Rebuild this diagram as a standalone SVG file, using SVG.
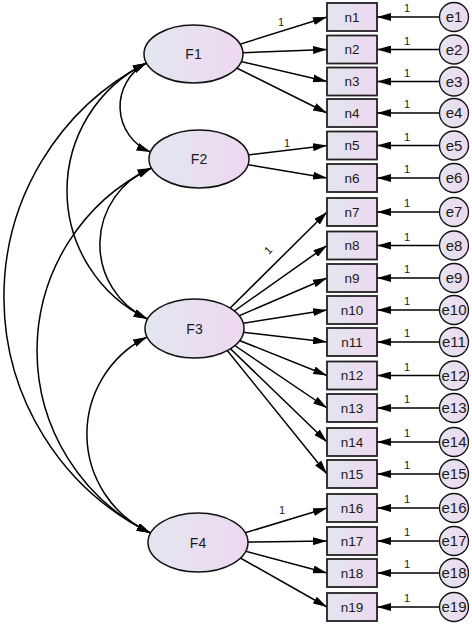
<svg xmlns="http://www.w3.org/2000/svg" width="472" height="625" viewBox="0 0 472 625">
<defs>
<linearGradient id="g" x1="0" y1="0" x2="1" y2="0">
<stop offset="0" stop-color="#e2e6ef"/>
<stop offset="1" stop-color="#eed8f0"/>
</linearGradient>
<marker id="ah" markerUnits="userSpaceOnUse" markerWidth="14" markerHeight="8" refX="14" refY="4" orient="auto-start-reverse" viewBox="0 0 14 8">
<path d="M0,0 L14,4 L0,8 z" fill="#000"/>
</marker>
</defs>
<style>
.lat{fill:url(#g);stroke:#111;stroke-width:1.5}
.obs{fill:url(#g);stroke:#222;stroke-width:1.8}
.err{fill:url(#g);stroke:#111;stroke-width:1.3}
.ln{fill:none;stroke:#000;stroke-width:1.5;marker-end:url(#ah)}
.cov{fill:none;stroke:#000;stroke-width:1.5;marker-start:url(#ah);marker-end:url(#ah)}
.tf{font-family:"Liberation Sans",Arial,sans-serif;font-size:14px;fill:#1a1a1a;text-anchor:middle}
.tn{font-family:"Liberation Sans",Arial,sans-serif;font-size:13.5px;fill:#1a1a1a;text-anchor:middle}
.te{font-family:"Liberation Sans",Arial,sans-serif;font-size:15px;fill:#1a1a1a;text-anchor:middle}
.tl{font-family:"Liberation Sans",Arial,sans-serif;font-size:11px;fill:#1a1a1a;text-anchor:middle}
</style>
<rect width="472" height="625" fill="#fff"/>
<g id="connectors">
<path class="cov" d="M146.5,63 A49.1,49.1 0 0 0 150.5,152"/>
<path class="cov" d="M146.5,63 A142.4,142.4 0 0 0 147.5,319"/>
<path class="cov" d="M146.5,63 A263.3,263.3 0 0 0 150.5,533"/>
<path class="cov" d="M151.5,168 A82.3,82.3 0 0 0 147.5,319"/>
<path class="cov" d="M151.5,168 A203.1,203.1 0 0 0 150.5,533"/>
<path class="cov" d="M147,337 A108.6,108.6 0 0 0 150.5,533"/>
<path class="ln" d="M208.5,54 L327,17"/>
<path class="ln" d="M208.5,54 L327,49.5"/>
<path class="ln" d="M208.5,54 L327,81.5"/>
<path class="ln" d="M208.5,54 L327,113"/>
<path class="ln" d="M214,159 L327,145.5"/>
<path class="ln" d="M214,159 L327,178"/>
<path class="ln" d="M209.5,328.5 L327,212"/>
<path class="ln" d="M209.5,328.5 L327,245.5"/>
<path class="ln" d="M209.5,328.5 L327,278"/>
<path class="ln" d="M209.5,328.5 L327,310"/>
<path class="ln" d="M209.5,328.5 L327,342"/>
<path class="ln" d="M209.5,328.5 L327,375.5"/>
<path class="ln" d="M209.5,328.5 L327,408"/>
<path class="ln" d="M209.5,328.5 L327,442"/>
<path class="ln" d="M209.5,328.5 L327,474"/>
<path class="ln" d="M213,542.5 L327,508"/>
<path class="ln" d="M213,542.5 L327,541"/>
<path class="ln" d="M213,542.5 L327,573"/>
<path class="ln" d="M213,542.5 L327,607"/>
<path class="ln" d="M454,17 L377,17"/>
<path class="ln" d="M454,49.5 L377,49.5"/>
<path class="ln" d="M454,81.5 L377,81.5"/>
<path class="ln" d="M454,113 L377,113"/>
<path class="ln" d="M454,145.5 L377,145.5"/>
<path class="ln" d="M454,178 L377,178"/>
<path class="ln" d="M454,212 L377,212"/>
<path class="ln" d="M454,245.5 L377,245.5"/>
<path class="ln" d="M454,278 L377,278"/>
<path class="ln" d="M454,310 L377,310"/>
<path class="ln" d="M454,342 L377,342"/>
<path class="ln" d="M454,375.5 L377,375.5"/>
<path class="ln" d="M454,408 L377,408"/>
<path class="ln" d="M454,442 L377,442"/>
<path class="ln" d="M454,474 L377,474"/>
<path class="ln" d="M454,508 L377,508"/>
<path class="ln" d="M454,541 L377,541"/>
<path class="ln" d="M454,573 L377,573"/>
<path class="ln" d="M454,607 L377,607"/>
<text class="tl" x="281" y="25.5">1</text>
<text class="tl" x="287" y="146.5">1</text>
<text class="tl" transform="translate(268,250) rotate(-46)" x="0" y="4">1</text>
<text class="tl" x="282" y="513.5">1</text>
<text class="tl" x="407" y="12">1</text>
<text class="tl" x="407" y="44.5">1</text>
<text class="tl" x="407" y="76.5">1</text>
<text class="tl" x="407" y="108">1</text>
<text class="tl" x="407" y="140.5">1</text>
<text class="tl" x="407" y="173">1</text>
<text class="tl" x="407" y="207">1</text>
<text class="tl" x="407" y="240.5">1</text>
<text class="tl" x="407" y="273">1</text>
<text class="tl" x="407" y="305">1</text>
<text class="tl" x="407" y="337">1</text>
<text class="tl" x="407" y="370.5">1</text>
<text class="tl" x="407" y="403">1</text>
<text class="tl" x="407" y="437">1</text>
<text class="tl" x="407" y="469">1</text>
<text class="tl" x="407" y="503">1</text>
<text class="tl" x="407" y="536">1</text>
<text class="tl" x="407" y="568">1</text>
<text class="tl" x="407" y="602">1</text>
</g>
<g id="F1"><ellipse class="lat" cx="193.5" cy="54" rx="49.5" ry="29"/><text class="tf" x="193.5" y="59">F1</text></g>
<g id="F2"><ellipse class="lat" cx="199" cy="159" rx="50" ry="29"/><text class="tf" x="199" y="164">F2</text></g>
<g id="F3"><ellipse class="lat" cx="194.5" cy="328.5" rx="49.5" ry="29.5"/><text class="tf" x="194.5" y="333.5">F3</text></g>
<g id="F4"><ellipse class="lat" cx="198" cy="542.5" rx="50" ry="29.5"/><text class="tf" x="198" y="547.5">F4</text></g>
<g id="n1"><rect class="obs" x="327" y="3" width="50" height="28"/><text class="tn" x="352" y="21.7">n1</text></g>
<g id="n2"><rect class="obs" x="327" y="35.5" width="50" height="28"/><text class="tn" x="352" y="54.2">n2</text></g>
<g id="n3"><rect class="obs" x="327" y="67.5" width="50" height="28"/><text class="tn" x="352" y="86.2">n3</text></g>
<g id="n4"><rect class="obs" x="327" y="99" width="50" height="28"/><text class="tn" x="352" y="117.7">n4</text></g>
<g id="n5"><rect class="obs" x="327" y="131.5" width="50" height="28"/><text class="tn" x="352" y="150.2">n5</text></g>
<g id="n6"><rect class="obs" x="327" y="164" width="50" height="28"/><text class="tn" x="352" y="182.7">n6</text></g>
<g id="n7"><rect class="obs" x="327" y="198" width="50" height="28"/><text class="tn" x="352" y="216.7">n7</text></g>
<g id="n8"><rect class="obs" x="327" y="231.5" width="50" height="28"/><text class="tn" x="352" y="250.2">n8</text></g>
<g id="n9"><rect class="obs" x="327" y="264" width="50" height="28"/><text class="tn" x="352" y="282.7">n9</text></g>
<g id="n10"><rect class="obs" x="327" y="296" width="50" height="28"/><text class="tn" x="352" y="314.7">n10</text></g>
<g id="n11"><rect class="obs" x="327" y="328" width="50" height="28"/><text class="tn" x="352" y="346.7">n11</text></g>
<g id="n12"><rect class="obs" x="327" y="361.5" width="50" height="28"/><text class="tn" x="352" y="380.2">n12</text></g>
<g id="n13"><rect class="obs" x="327" y="394" width="50" height="28"/><text class="tn" x="352" y="412.7">n13</text></g>
<g id="n14"><rect class="obs" x="327" y="428" width="50" height="28"/><text class="tn" x="352" y="446.7">n14</text></g>
<g id="n15"><rect class="obs" x="327" y="460" width="50" height="28"/><text class="tn" x="352" y="478.7">n15</text></g>
<g id="n16"><rect class="obs" x="327" y="494" width="50" height="28"/><text class="tn" x="352" y="512.7">n16</text></g>
<g id="n17"><rect class="obs" x="327" y="527" width="50" height="28"/><text class="tn" x="352" y="545.7">n17</text></g>
<g id="n18"><rect class="obs" x="327" y="559" width="50" height="28"/><text class="tn" x="352" y="577.7">n18</text></g>
<g id="n19"><rect class="obs" x="327" y="593" width="50" height="28"/><text class="tn" x="352" y="611.7">n19</text></g>
<g id="e1"><circle class="err" cx="454" cy="17" r="14.5"/><text class="te" x="454" y="22.4">e1</text></g>
<g id="e2"><circle class="err" cx="454" cy="49.5" r="14.5"/><text class="te" x="454" y="54.9">e2</text></g>
<g id="e3"><circle class="err" cx="454" cy="81.5" r="14.5"/><text class="te" x="454" y="86.9">e3</text></g>
<g id="e4"><circle class="err" cx="454" cy="113" r="14.5"/><text class="te" x="454" y="118.4">e4</text></g>
<g id="e5"><circle class="err" cx="454" cy="145.5" r="14.5"/><text class="te" x="454" y="150.9">e5</text></g>
<g id="e6"><circle class="err" cx="454" cy="178" r="14.5"/><text class="te" x="454" y="183.4">e6</text></g>
<g id="e7"><circle class="err" cx="454" cy="212" r="14.5"/><text class="te" x="454" y="217.4">e7</text></g>
<g id="e8"><circle class="err" cx="454" cy="245.5" r="14.5"/><text class="te" x="454" y="250.9">e8</text></g>
<g id="e9"><circle class="err" cx="454" cy="278" r="14.5"/><text class="te" x="454" y="283.4">e9</text></g>
<g id="e10"><circle class="err" cx="454" cy="310" r="14.5"/><text class="te" x="454" y="315.4">e10</text></g>
<g id="e11"><circle class="err" cx="454" cy="342" r="14.5"/><text class="te" x="454" y="347.4">e11</text></g>
<g id="e12"><circle class="err" cx="454" cy="375.5" r="14.5"/><text class="te" x="454" y="380.9">e12</text></g>
<g id="e13"><circle class="err" cx="454" cy="408" r="14.5"/><text class="te" x="454" y="413.4">e13</text></g>
<g id="e14"><circle class="err" cx="454" cy="442" r="14.5"/><text class="te" x="454" y="447.4">e14</text></g>
<g id="e15"><circle class="err" cx="454" cy="474" r="14.5"/><text class="te" x="454" y="479.4">e15</text></g>
<g id="e16"><circle class="err" cx="454" cy="508" r="14.5"/><text class="te" x="454" y="513.4">e16</text></g>
<g id="e17"><circle class="err" cx="454" cy="541" r="14.5"/><text class="te" x="454" y="546.4">e17</text></g>
<g id="e18"><circle class="err" cx="454" cy="573" r="14.5"/><text class="te" x="454" y="578.4">e18</text></g>
<g id="e19"><circle class="err" cx="454" cy="607" r="14.5"/><text class="te" x="454" y="612.4">e19</text></g>
</svg>
